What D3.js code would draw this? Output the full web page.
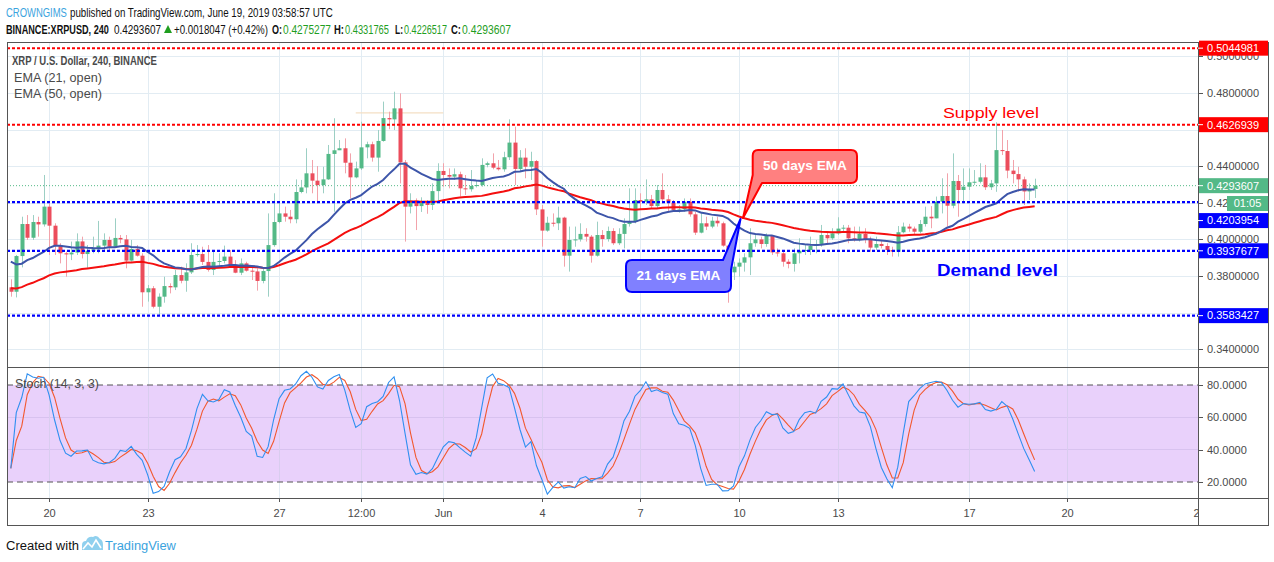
<!DOCTYPE html>
<html>
<head>
<meta charset="utf-8">
<script src="https://cdn.jsdelivr.net/npm/d3@7"></script>
<style>
  body { margin: 0; background: #fff; }
  text { font-family: "Liberation Sans", Arial, sans-serif; }
  .ax { font-size: 11px; fill: #4a4a4a; }
  .humanist { font-family: "Open Sans", "Noto Sans", sans-serif; }
</style>
</head>
<body>
<svg id="chart" width="1274" height="562"></svg>
<script>
//////////////////////////////////////////////////////////////////////////////
// Data (XRPUSD 4h candles)
//

var startTime = Date.UTC(2019, 4, 18, 20);   // first visible 4h candle
var endTime = Date.UTC(2019, 5, 24, 0);      // right edge of the price pane
var firstOpen = 0.3738;

var closes = [
  0.3714,0.3909,0.4084,0.4009,0.4095,0.4082,0.4179,0.4075,0.3966,0.3924,
  0.3918,0.3928,0.3989,0.3920,0.3938,0.3946,0.3966,0.3997,0.3960,0.4008,
  0.4000,0.3884,0.3948,0.3911,0.3711,0.3733,0.3632,0.3687,0.3745,0.3738,
  0.3805,0.3774,0.3820,0.3915,0.3920,0.3877,0.3833,0.3877,0.3882,0.3906,
  0.3860,0.3818,0.3869,0.3829,0.3825,0.3773,0.3827,0.3969,0.4095,0.4142,
  0.4124,0.4110,0.4259,0.4284,0.4361,0.4321,0.4297,0.4328,0.4467,0.4487,
  0.4498,0.4419,0.4339,0.4388,0.4503,0.4520,0.4447,0.4538,0.4663,0.4656,
  0.4716,0.4421,0.4179,0.4212,0.4182,0.4206,0.4188,0.4264,0.4374,0.4352,
  0.4343,0.4356,0.4279,0.4274,0.4292,0.4297,0.4407,0.4416,0.4392,0.4383,
  0.4449,0.4529,0.4385,0.4447,0.4397,0.4428,0.4164,0.4048,0.4091,0.4088,
  0.4119,0.3911,0.3997,0.4000,0.4030,0.4015,0.3911,0.4024,0.4002,0.4046,
  0.3979,0.4030,0.4084,0.4097,0.4215,0.4206,0.4219,0.4182,0.4270,0.4219,
  0.4201,0.4161,0.4164,0.4206,0.4137,0.4037,0.4088,0.4070,0.4102,0.4088,
  0.3966,0.3820,0.3851,0.3873,0.3902,0.3979,0.4000,0.3975,0.4019,0.3929,
  0.3924,0.3878,0.3866,0.3924,0.3938,0.3942,0.3964,0.3975,0.4024,0.4006,
  0.4033,0.4059,0.4064,0.4006,0.4000,0.4030,0.4000,0.3955,0.3975,0.3964,
  0.3942,0.3933,0.4039,0.4070,0.4059,0.4042,0.4084,0.4124,0.4115,0.4206,
  0.4237,0.4184,0.4319,0.4270,0.4288,0.4312,0.4315,0.4339,0.4285,0.4306,
  0.4488,0.4483,0.4376,0.4357,0.4328,0.4262,0.4275277,0.4293607
];

var highs = [
  0.3782,0.3915,0.4124,0.4133,0.4133,0.4124,0.4352,0.4197,0.4088,0.3979,
  0.3933,0.3988,0.4033,0.4015,0.3969,0.4015,0.4101,0.4033,0.4015,0.4115,
  0.4024,0.4024,0.3997,0.3969,0.3924,0.3751,0.3745,0.3705,0.3796,0.3760,
  0.3833,0.3851,0.3869,0.3979,0.3969,0.3960,0.3969,0.3933,0.3924,0.3966,
  0.3942,0.3887,0.3896,0.3878,0.3851,0.3842,0.3842,0.4142,0.4252,0.4201,
  0.4179,0.4161,0.4328,0.4325,0.4498,0.4434,0.4401,0.4397,0.4516,0.4662,
  0.4543,0.4552,0.4470,0.4425,0.4643,0.4534,0.4534,0.4598,0.4753,0.4698,
  0.4807,0.4798,0.4434,0.4252,0.4224,0.4230,0.4215,0.4306,0.4416,0.4416,
  0.4388,0.4388,0.4370,0.4352,0.4379,0.4325,0.4443,0.4425,0.4470,0.4434,
  0.4479,0.4656,0.4616,0.4488,0.4498,0.4479,0.4434,0.4188,0.4124,0.4142,
  0.4179,0.4124,0.4070,0.4070,0.4088,0.4061,0.4024,0.4097,0.4051,0.4070,
  0.4061,0.4061,0.4115,0.4279,0.4279,0.4252,0.4328,0.4243,0.4297,0.4361,
  0.4243,0.4215,0.4188,0.4224,0.4224,0.4151,0.4151,0.4124,0.4124,0.4124,
  0.4097,0.3969,0.3878,0.3896,0.3924,0.4061,0.4024,0.4015,0.4033,0.4024,
  0.3951,0.3933,0.3891,0.3951,0.4006,0.3969,0.4015,0.3997,0.4079,0.4042,
  0.4061,0.4121,0.4079,0.4079,0.4070,0.4070,0.4061,0.4015,0.4015,0.3997,
  0.3979,0.3960,0.4073,0.4092,0.4085,0.4070,0.4106,0.4179,0.4182,0.4234,
  0.4334,0.4361,0.4470,0.4352,0.4388,0.4388,0.4379,0.4416,0.4407,0.4325,
  0.4640,0.4598,0.4543,0.4434,0.4397,0.4343,0.4306,0.4331765
];

var lows = [
  0.3687,0.3683,0.3847,0.3997,0.3997,0.4015,0.4070,0.3915,0.3915,0.3869,
  0.3796,0.3887,0.3915,0.3896,0.3845,0.3924,0.3924,0.3933,0.3933,0.3960,
  0.3979,0.3842,0.3878,0.3906,0.3632,0.3660,0.3623,0.3583,0.3654,0.3705,
  0.3723,0.3760,0.3714,0.3811,0.3906,0.3860,0.3824,0.3805,0.3851,0.3869,
  0.3851,0.3815,0.3805,0.3824,0.3778,0.3720,0.3760,0.3687,0.3960,0.4088,
  0.4097,0.4088,0.4088,0.4252,0.4252,0.4252,0.4197,0.4252,0.4325,0.4151,
  0.4488,0.4361,0.4224,0.4334,0.4379,0.4443,0.4425,0.4370,0.4534,0.4602,
  0.4598,0.4306,0.3988,0.4142,0.4051,0.4150,0.4140,0.4161,0.4215,0.4288,
  0.4279,0.4325,0.4234,0.4243,0.4261,0.4284,0.4288,0.4394,0.4383,0.4376,
  0.4370,0.4434,0.4297,0.4370,0.4334,0.4325,0.4133,0.3960,0.4042,0.4070,
  0.4051,0.3851,0.3824,0.3960,0.3988,0.3988,0.3873,0.3906,0.3960,0.3988,
  0.3969,0.3969,0.3951,0.4070,0.4088,0.4161,0.4188,0.4170,0.4170,0.4197,
  0.4151,0.4151,0.4146,0.4151,0.4124,0.4024,0.4033,0.4051,0.4061,0.4070,
  0.3960,0.3654,0.3778,0.3796,0.3824,0.3805,0.3960,0.3951,0.3960,0.3915,
  0.3906,0.3851,0.3842,0.3824,0.3869,0.3915,0.3915,0.3924,0.3960,0.3979,
  0.3997,0.4024,0.4042,0.3979,0.3988,0.3988,0.3979,0.3933,0.3942,0.3951,
  0.3915,0.3906,0.3906,0.4033,0.4042,0.4024,0.4033,0.4070,0.4061,0.4115,
  0.4142,0.4070,0.4170,0.4124,0.4197,0.4270,0.4297,0.4306,0.4270,0.4270,
  0.4260,0.4461,0.4334,0.4306,0.4261,0.4188,0.4215,0.4226517
];

var ema21Seed = 0.3878;   // EMA values at the first visible bar
var ema50Seed = 0.3733;

var supplyLevels = [0.5044981, 0.4626939];
var demandLevels = [0.4203954, 0.3937677, 0.3583427];
var lastPrice = 0.4293607;
var highMark = 0.4691;

var priceTicks = [0.34, 0.36, 0.38, 0.40, 0.42, 0.44, 0.46, 0.48, 0.50];
var stochTicks = [20, 40, 60, 80];
var tickDates = [
  Date.UTC(2019,4,20), Date.UTC(2019,4,23), Date.UTC(2019,4,27), Date.UTC(2019,4,29,12),
  Date.UTC(2019,5,1), Date.UTC(2019,5,4), Date.UTC(2019,5,7), Date.UTC(2019,5,10),
  Date.UTC(2019,5,13), Date.UTC(2019,5,17), Date.UTC(2019,5,20), Date.UTC(2019,5,24)
];
var tickLabels = ["20","23","27","12:00","Jun","4","7","10","13","17","20","24"];

//////////////////////////////////////////////////////////////////////////////
// Layout
//

var svg = d3.select("#chart");
var paneL = 7, paneR = 1198, axisR = 1268;
var mainTop = 42, mainBot = 367, stochBot = 498, timeBot = 525;

var x = d3.scaleUtc().domain([new Date(startTime), new Date(endTime)]).range([10.8, 1198.9]);
var y = d3.scaleLinear().domain([0.34, 0.48]).range([349.2, 93]);
var ys = d3.scaleLinear().domain([20, 80]).range([482, 385]);

var GREEN = "#53b987", RED = "#eb4d5c";

// squeeze a text horizontally so it spans `w` pixels starting at x0
// (a transform rather than textLength, so its box is the drawn box)
function fit(sel, x0, yb, w, anchor) {
    sel.attr("x", 0).attr("y", 0);
    var n = sel.node().getComputedTextLength();
    var sx = w / n;
    var left = anchor === "middle" ? x0 - w / 2 : x0;
    sel.attr("transform", "translate(" + left + "," + yb + ") scale(" + sx + ",1)");
    return sel;
}

var candles = closes.map(function (c, i) {
    return { t: new Date(startTime + i * 4 * 3600e3), o: i ? closes[i - 1] : firstOpen, h: highs[i], l: lows[i], c: c };
});

function ema(vals, n, seed) {
    var k = 2 / (n + 1), e = seed;
    return vals.map(function (v, i) { if (i) { e = v * k + e * (1 - k); } return e; });
}
function sma(a, n) {
    return a.map(function (v, i) { return d3.mean(a.slice(Math.max(0, i - n + 1), i + 1)); });
}

var opens = candles.map(function (d) { return d.o; });
var ema21 = ema(opens, 21, ema21Seed);
var ema50 = ema(opens, 50, ema50Seed);

var raw = candles.map(function (d, i) {
    var w = candles.slice(Math.max(0, i - 13), i + 1);
    var hh = d3.max(w, function (f) { return f.h; }), ll = d3.min(w, function (f) { return f.l; });
    return 100 * (d.c - ll) / (hh - ll);
});
var stochK = sma(raw, 3);
var stochD = sma(stochK, 3);

var defs = svg.append("defs");
defs.append("clipPath").attr("id", "clipMain").append("rect")
  .attr("x", paneL).attr("y", mainTop).attr("width", paneR - paneL).attr("height", mainBot - mainTop);
defs.append("clipPath").attr("id", "clipStoch").append("rect")
  .attr("x", paneL).attr("y", mainBot).attr("width", paneR - paneL).attr("height", stochBot - mainBot);
defs.append("clipPath").attr("id", "clipTime").append("rect")
  .attr("x", paneL).attr("y", stochBot).attr("width", paneR - paneL).attr("height", timeBot - stochBot);

//
// grid
//
var grid = svg.append("g").attr("shape-rendering", "crispEdges");
tickDates.forEach(function (t) {
    var xx = Math.round(x(new Date(t))) + 0.5;
    if (xx >= paneR) return;
    grid.append("line").attr("x1", xx).attr("x2", xx).attr("y1", mainTop).attr("y2", stochBot)
      .attr("stroke", "#e2ecf3");
});
priceTicks.forEach(function (p) {
    var yy = Math.round(y(p)) + 0.5;
    if (yy < mainTop) return;
    grid.append("line").attr("x1", paneL).attr("x2", paneR).attr("y1", yy).attr("y2", yy)
      .attr("stroke", "#e2ecf3");
});

//
// stochastic pane
//
var sp = svg.append("g").attr("clip-path", "url(#clipStoch)");
sp.append("rect").attr("x", paneL).attr("width", paneR - paneL)
  .attr("y", ys(80)).attr("height", ys(20) - ys(80)).attr("fill", "#e9d1fb");
[40, 60].forEach(function (v) {
    sp.append("line").attr("x1", paneL).attr("x2", paneR).attr("y1", ys(v)).attr("y2", ys(v))
      .attr("stroke", "#d8c2ef").attr("shape-rendering", "crispEdges");
});
tickDates.forEach(function (t) {
    var xx = Math.round(x(new Date(t))) + 0.5;
    sp.append("line").attr("x1", xx).attr("x2", xx).attr("y1", ys(80)).attr("y2", ys(20))
      .attr("stroke", "#d9cdef").attr("shape-rendering", "crispEdges");
});
[20, 80].forEach(function (v) {
    sp.append("line").attr("x1", paneL).attr("x2", paneR).attr("y1", ys(v)).attr("y2", ys(v))
      .attr("stroke", "#555").attr("stroke-dasharray", "6,4");
});
var sLine = function (arr) {
    return d3.line().x(function (d, i) { return x(candles[i].t); }).y(function (d) { return ys(d); })(arr);
};
sp.append("path").attr("d", sLine(stochD)).attr("fill", "none").attr("stroke", "#f2582e").attr("stroke-width", 1.1);
sp.append("path").attr("d", sLine(stochK)).attr("fill", "none").attr("stroke", "#2f8ff0").attr("stroke-width", 1.1);

//
// price pane
//
var mp = svg.append("g").attr("clip-path", "url(#clipMain)");

mp.append("line").attr("x1", x(new Date(Date.UTC(2019,4,29,8)))).attr("x2", x(new Date(Date.UTC(2019,5,1,0))))
  .attr("y1", y(highMark)).attr("y2", y(highMark)).attr("stroke", "#f4dfc4").attr("stroke-width", 1.2);

mp.append("line").attr("x1", paneL).attr("x2", paneR).attr("y1", y(lastPrice)).attr("y2", y(lastPrice))
  .attr("stroke", GREEN).attr("stroke-dasharray", "1,2");

var cg = mp.append("g");
cg.selectAll("line.wick").data(candles).enter().append("line")
  .attr("class", "wick")
  .attr("x1", function (d) { return Math.round(x(d.t)) + 0.5; })
  .attr("x2", function (d) { return Math.round(x(d.t)) + 0.5; })
  .attr("y1", function (d) { return y(d.h); })
  .attr("y2", function (d) { return y(d.l); })
  .attr("stroke", function (d) { return d.c >= d.o ? "#9ccfc4" : "#f2a3ab"; });
cg.selectAll("rect.body").data(candles).enter().append("rect")
  .attr("class", "body")
  .attr("x", function (d) { return Math.round(x(d.t)) - 1.5; })
  .attr("width", 4)
  .attr("y", function (d) { return y(Math.max(d.o, d.c)); })
  .attr("height", function (d) { return Math.max(1, Math.abs(y(d.o) - y(d.c))); })
  .attr("fill", function (d) { return d.c >= d.o ? GREEN : RED; });

var pLine = function (arr) {
    return d3.line().x(function (d, i) { return x(candles[i].t); }).y(function (d) { return y(d); })(arr);
};
mp.append("path").attr("d", pLine(ema50)).attr("fill", "none").attr("stroke", "#f40f0f").attr("stroke-width", 2);
mp.append("path").attr("d", pLine(ema21)).attr("fill", "none").attr("stroke", "#3d55a9").attr("stroke-width", 2);

supplyLevels.forEach(function (v) {
    mp.append("line").attr("x1", paneL).attr("x2", paneR).attr("y1", y(v)).attr("y2", y(v))
      .attr("stroke", "#ff0000").attr("stroke-width", 2).attr("stroke-dasharray", "3,2");
});
demandLevels.forEach(function (v) {
    mp.append("line").attr("x1", paneL).attr("x2", paneR).attr("y1", y(v)).attr("y2", y(v))
      .attr("stroke", "#0000ff").attr("stroke-width", 2.2).attr("stroke-dasharray", "3,2");
});

// callouts
mp.append("path")
  .attr("d", "M758,150 L851,150 Q857,150 857,156 L857,177 Q857,183 851,183 L762,183 L743,218 L752.7,175 L752.7,156 Q752.7,150 758,150 Z")
  .attr("fill", "#ff8080").attr("stroke", "#ff0000").attr("stroke-width", 2).attr("stroke-linejoin", "round");
fit(mp.append("text").attr("font-family", "DejaVu Sans, sans-serif").attr("font-weight", "bold")
  .attr("font-size", 12.5).attr("fill", "#fff").text("50 days EMA"), 805, 170, 84, "middle");

mp.append("path")
  .attr("d", "M632,260 L723,260 L740.5,219 L731,270 L731,286 Q731,292 725,292 L632,292 Q626,292 626,286 L626,266 Q626,260 632,260 Z")
  .attr("fill", "#8080ff").attr("stroke", "#0000ff").attr("stroke-width", 2).attr("stroke-linejoin", "round");
fit(mp.append("text").attr("font-family", "DejaVu Sans, sans-serif").attr("font-weight", "bold")
  .attr("font-size", 12.5).attr("fill", "#fff").text("21 days EMA"), 678.5, 280, 84, "middle");

fit(mp.append("text").attr("font-family", "DejaVu Sans, sans-serif").attr("font-size", 15.5)
  .attr("fill", "#ff0000").text("Supply level"), 943, 117.5, 96);
fit(mp.append("text").attr("font-family", "DejaVu Sans, sans-serif").attr("font-weight", "bold")
  .attr("font-size", 16).attr("fill", "#0000ff").text("Demand level"), 937, 276, 121);

// legends
var legend = svg.append("g").attr("class", "humanist").attr("fill", "#4a4a4a").attr("font-size", 12);
fit(legend.append("text").attr("font-weight", 600).text("XRP / U.S. Dollar, 240, BINANCE"), 12, 65, 145);
fit(legend.append("text").text("EMA (21, open)"), 14, 81.5, 88);
fit(legend.append("text").text("EMA (50, open)"), 14, 98, 88);
fit(legend.append("text").text("Stoch (14, 3, 3)"), 15, 388, 84);

//
// frame and axes
//
var frame = svg.append("g").attr("stroke", "#555").attr("shape-rendering", "crispEdges").attr("fill", "none");
frame.append("rect").attr("x", paneL + 0.5).attr("y", mainTop + 0.5).attr("width", axisR - paneL).attr("height", timeBot - mainTop);
frame.append("line").attr("x1", paneR + 0.5).attr("x2", paneR + 0.5).attr("y1", mainTop).attr("y2", timeBot);
[mainBot, stochBot].forEach(function (v) {
    frame.append("line").attr("x1", paneL).attr("x2", axisR).attr("y1", v + 0.5).attr("y2", v + 0.5);
});

// where the coloured price labels sit on the axis
var labelSpots = supplyLevels.map(function (v) { return Math.max(y(v), mainTop + 6); })
  .concat([y(lastPrice)])
  .concat(demandLevels.map(function (v, i) { return i === 0 ? y(v) + 18.5 : y(v); }));

var axis = svg.append("g");
priceTicks.forEach(function (p) {
    var yy = y(p);
    if (yy < mainTop + 4) return;
    axis.append("line").attr("x1", paneR).attr("x2", paneR + 5).attr("y1", Math.round(yy) + 0.5).attr("y2", Math.round(yy) + 0.5)
      .attr("stroke", "#555");
    // a tick whose label is hidden behind a coloured price label is not written;
    // 0.42 sits under the countdown box and only its first characters show
    var hidden = labelSpots.some(function (s) { return Math.abs(s - yy) < 7; });
    if (hidden) return;
    axis.append("text").attr("class", "ax").attr("x", 1207).attr("y", yy).attr("dy", "0.35em")
      .text(p === 0.42 ? "0.42" : p.toFixed(7));
});
stochTicks.forEach(function (v) {
    axis.append("line").attr("x1", paneR).attr("x2", paneR + 5).attr("y1", Math.round(ys(v)) + 0.5).attr("y2", Math.round(ys(v)) + 0.5)
      .attr("stroke", "#555");
    axis.append("text").attr("class", "ax").attr("x", 1207).attr("y", ys(v)).attr("dy", "0.35em").text(v.toFixed(4));
});

function priceLabel(v, yc, fill) {
    axis.append("rect").attr("x", paneR + 1).attr("y", yc - 7.5).attr("width", axisR - paneR - 1).attr("height", 15).attr("fill", fill);
    axis.append("line").attr("x1", paneR).attr("x2", paneR + 5).attr("y1", yc).attr("y2", yc).attr("stroke", "#fff");
    axis.append("text").attr("class", "ax").attr("x", 1207).attr("y", yc).attr("dy", "0.35em").style("fill", "#fff").text(v.toFixed(7));
}
supplyLevels.forEach(function (v, i) { priceLabel(v, labelSpots[i], "#ff0000"); });
priceLabel(lastPrice, labelSpots[2], GREEN);
demandLevels.forEach(function (v, i) { priceLabel(v, labelSpots[3 + i], "#0000ff"); });
axis.append("rect").attr("x", 1227).attr("y", 196).attr("width", axisR - 1227).attr("height", 15).attr("fill", GREEN);
axis.append("text").attr("class", "ax").attr("x", 1247.5).attr("y", 203.5).attr("dy", "0.35em")
  .attr("text-anchor", "middle").style("fill", "#fff").text("01:05");

var tAxis = svg.append("g").attr("clip-path", "url(#clipTime)");
tickDates.forEach(function (t, i) {
    var xx = Math.round(x(new Date(t))) + 0.5;
    tAxis.append("line").attr("x1", xx).attr("x2", xx).attr("y1", stochBot).attr("y2", stochBot + 4).attr("stroke", "#555");
    tAxis.append("text").attr("class", "ax").attr("x", xx).attr("y", 517).attr("text-anchor", "middle")
      .text(tickLabels[i]);
});

//
// header and footer
//
var head = svg.append("g").attr("class", "humanist").attr("font-size", 13);
fit(head.append("text").attr("fill", "#3ba3de").text("CROWNGIMS"), 6, 17, 61);
fit(head.append("text").attr("fill", "#111").text("published on TradingView.com, June 19, 2019 03:58:57 UTC"), 70, 17, 263);

var row = [
    ["BINANCE:XRPUSD, 240", 6, 103, true, "#111"],
    ["0.4293607", 114, 47, false, "#111"],
    ["+0.0018047 (+0.42%)", 174, 94, false, "#111"],
    ["O:", 272, 10, true, "#111"],
    ["0.4275277", 283, 48, false, "#1f9e1f"],
    ["H:", 334, 10, true, "#111"],
    ["0.4331765", 345, 44, false, "#1f9e1f"],
    ["L:", 395, 8, true, "#111"],
    ["0.4226517", 404, 43, false, "#1f9e1f"],
    ["C:", 451, 10, true, "#111"],
    ["0.4293607", 462, 49, false, "#1f9e1f"]
];
row.forEach(function (r) {
    fit(head.append("text").attr("font-weight", r[3] ? "bold" : "normal").attr("fill", r[4]).text(r[0]), r[1], 33.5, r[2]);
});
head.append("path").attr("d", "M164,33 L168,25 L172,33 Z").attr("fill", "#1f9e1f");

var foot = svg.append("g").attr("class", "humanist").attr("font-size", 12.5);
fit(foot.append("text").attr("fill", "#111").text("Created with"), 6, 550, 73);
foot.append("path").attr("d", "M82,550 L82,545 Q82,541 86,541 Q88,536 93,537 Q97,534 100,539 Q103,540 103,545 L103,550 Z")
  .attr("fill", "#8fd0ee");
foot.append("path").attr("d", "M83,549 L88,543 L92,547 L96,540 L101,548").attr("fill", "none").attr("stroke", "#fff").attr("stroke-width", 1.6);
fit(foot.append("text").attr("fill", "#3ba3de").text("TradingView"), 105, 550, 71);
</script>
</body>
</html>
